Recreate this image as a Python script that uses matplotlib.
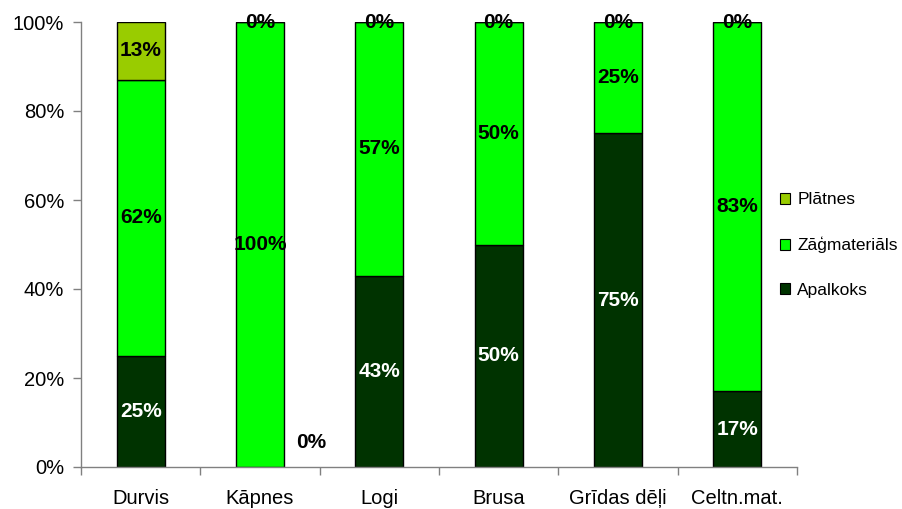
import matplotlib
matplotlib.use("Agg")
import matplotlib.pyplot as plt
from matplotlib.patches import Patch
import numpy as np

plt.rcParams['font.family'] = ['Liberation Sans', 'DejaVu Sans']

categories = ["Durvis", "Kāpnes", "Logi", "Brusa", "Grīdas dēļi", "Celtn.mat."]
apalkoks = [25, 0, 43, 50, 75, 17]
zagmaterials = [62, 100, 57, 50, 25, 83]
platnes = [13, 0, 0, 0, 0, 0]

series_names = ["Apalkoks", "Zāģmateriāls", "Plātnes"]
colors = ["#003300", "#00FF00", "#99CC00"]
label_colors = ["white", "black", "black"]

fig = plt.figure(figsize=(9.03, 5.09), dpi=100)
ax = fig.add_axes([81/903, 1-467/509, (797-81)/903, (467-22)/509])

x = np.arange(len(categories))
width = 0.4
bottom = np.zeros(len(categories))
for vals, col, lcol in zip([apalkoks, zagmaterials, platnes], colors, label_colors):
    vals = np.array(vals, dtype=float)
    ax.bar(x, vals, width, bottom=bottom, color=col, edgecolor="black",
           linewidth=1.0, zorder=2)
    for i, v in enumerate(vals):
        cy = bottom[i] + v / 2
        cx = x[i]
        if v == 0 and bottom[i] == 0:
            # empty base segment: label pushed to the side of the bar
            cx = x[i] + 0.43
            cy = 5.6
        ax.text(cx, cy, f"{int(v)}%", ha="center", va="center",
                fontsize=15, fontweight="bold", color=lcol if v > 0 else "black",
                zorder=3)
    bottom += vals

ax.set_xlim(-0.5, len(categories) - 0.5)
ax.set_ylim(0, 100)
ax.set_yticks(np.arange(0, 101, 20))
ax.set_yticklabels([f"{v}%" for v in range(0, 101, 20)], fontsize=14.5)
ax.set_xticks(np.arange(-0.5, len(categories), 1.0))
ax.set_xticklabels([])
ax.set_xticks(x, minor=True)
ax.set_xticklabels(categories, minor=True, fontsize=14.5)
ax.tick_params(axis="x", which="minor", length=0, pad=16)
ax.tick_params(axis="x", which="major", length=6, color="#808080", width=1)
ax.tick_params(axis="y", length=6, color="#808080", width=1, pad=6)

for side in ["top", "right"]:
    ax.spines[side].set_visible(False)
for side in ["left", "bottom"]:
    ax.spines[side].set_color("#808080")
    ax.spines[side].set_linewidth(1)

handles = [Patch(facecolor=c, edgecolor="black", linewidth=0.8) for c in colors][::-1]
fig.legend(handles, series_names[::-1], loc="center left",
           bbox_to_anchor=(780/903, 1-245/509), frameon=False,
           fontsize=12.5, handlelength=0.6, handleheight=0.6,
           handletextpad=0.4, labelspacing=1.7, borderpad=0, borderaxespad=0)

fig.savefig("out.png", dpi=100)
